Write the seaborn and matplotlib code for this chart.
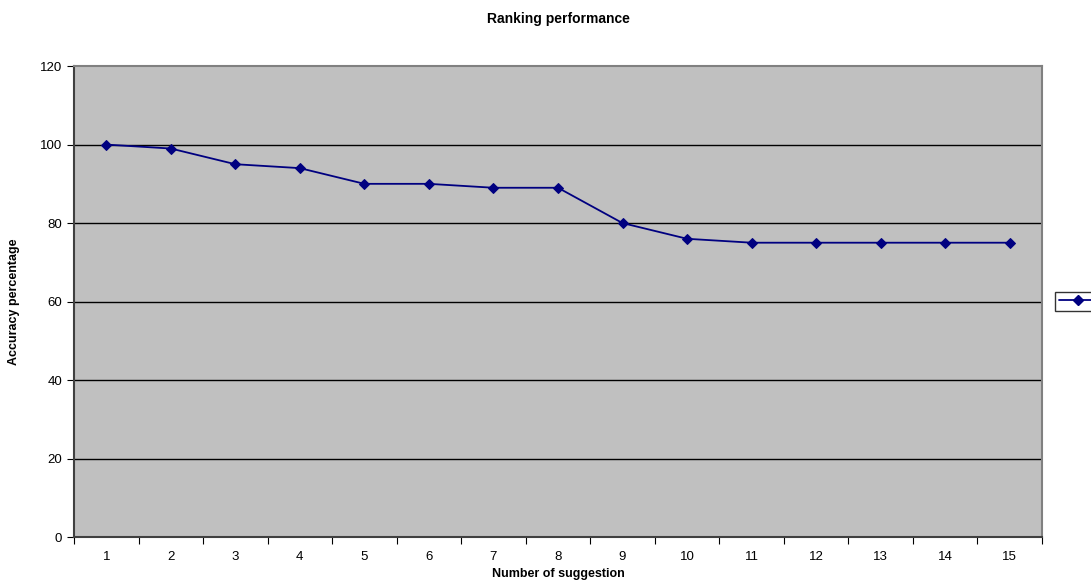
import numpy as np
import pandas as pd
import matplotlib
matplotlib.use("Agg")
import matplotlib.pyplot as plt
import seaborn as sns
from matplotlib.lines import Line2D

suggestions = list(range(1, 16))
accuracy = [100, 99, 95, 94, 90, 90, 89, 89, 80, 76, 75, 75, 75, 75, 75]

sns.set_style("white")
plt.rcParams["font.family"] = ["Liberation Sans", "DejaVu Sans"]
plt.rcParams["text.color"] = "black"
plt.rcParams["axes.labelcolor"] = "black"
plt.rcParams["xtick.color"] = "black"
plt.rcParams["ytick.color"] = "black"

df = pd.DataFrame({"n": suggestions, "acc": accuracy})

fig = plt.figure(figsize=(10.91, 5.85), dpi=100)
ax = fig.add_axes([0.0678, 0.082, 0.8873, 0.805])
ax.set_facecolor("#C0C0C0")

# horizontal grid like excel
for y in range(20, 120, 20):
    ax.axhline(y, color="black", lw=1, zorder=1)

sns.lineplot(data=df, x="n", y="acc", color="#000080", marker="D",
             markersize=5, markeredgecolor="#000080", lw=1.3, ax=ax, zorder=3)

ax.set_xlim(0.5, 15.5)
ax.set_ylim(0, 120)
ax.set_yticks(range(0, 121, 20))
ax.set_xticks(np.arange(0.5, 15.6, 1))
ax.set_xticklabels([])
ax.set_xticks(suggestions, minor=True)
ax.set_xticklabels([str(s) for s in suggestions], minor=True)
ax.tick_params(axis="x", which="major", length=5, direction="out", color="black", bottom=True)
ax.tick_params(axis="x", which="minor", length=0, pad=10, labelsize=9.5)
ax.tick_params(axis="y", length=5, direction="out", color="black", left=True, labelsize=9.5)

for side in ["top", "right"]:
    ax.spines[side].set_color("#808080")
    ax.spines[side].set_linewidth(1.5)
for side in ["left", "bottom"]:
    ax.spines[side].set_color("#404040")
    ax.spines[side].set_linewidth(1.5)

ax.set_xlabel("Number of suggestion", fontsize=9, fontweight="bold", labelpad=4)
ax.set_ylabel("Accuracy percentage", fontsize=9, fontweight="bold", labelpad=14)
ax.set_title("Ranking performance", fontsize=10, fontweight="bold", pad=31)

h = Line2D([0], [0], color="#000080", marker="D", markersize=5, lw=1.3)
leg = ax.legend(handles=[h], labels=[""], loc="center left", bbox_to_anchor=(1.007, 0.5),
                frameon=True, fancybox=False, handlelength=3, borderpad=0.3,
                handletextpad=0, fontsize=9)
leg.get_frame().set_edgecolor("black")
leg.get_frame().set_linewidth(1)

fig.savefig("out.png", dpi=100)
